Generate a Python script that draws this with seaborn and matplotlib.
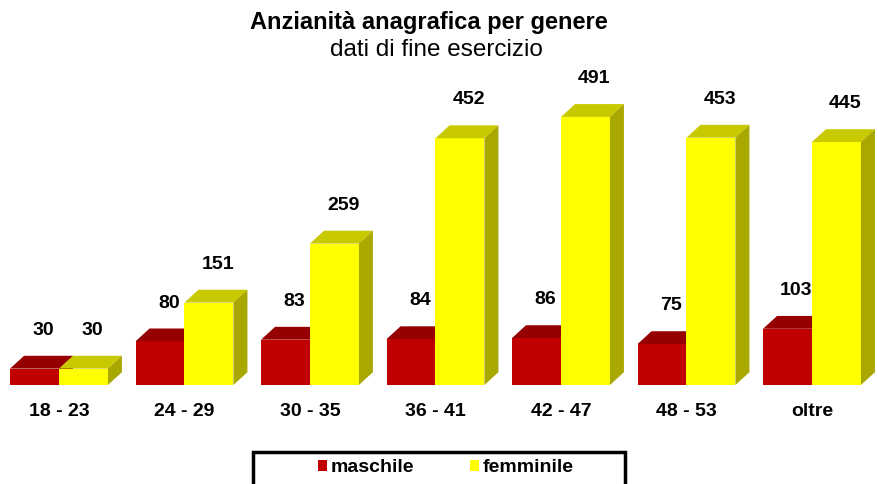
import pandas as pd
import matplotlib
matplotlib.use("Agg")
import matplotlib.pyplot as plt
from matplotlib.patches import Polygon, Patch, Rectangle
import seaborn as sns

# Dati del grafico
fasce = ["18 - 23", "24 - 29", "30 - 35", "36 - 41", "42 - 47", "48 - 53", "oltre"]
maschile = [30, 80, 83, 84, 86, 75, 103]
femminile = [30, 151, 259, 452, 491, 453, 445]
generi = ["maschile", "femminile"]

df = pd.DataFrame({
    "Fascia": fasce * 2,
    "Valore": maschile + femminile,
    "Genere": ["maschile"] * len(fasce) + ["femminile"] * len(fasce),
})

# Colori (fronte, sopra, lato)
colori = {
    "maschile": ("#C00000", "#960000", "#7A0000"),
    "femminile": ("#FFFF00", "#C9C900", "#A8A800"),
}

sns.set_style("white")
plt.rcParams["font.family"] = ["Liberation Sans", "DejaVu Sans"]
plt.rcParams["text.color"] = "black"
plt.rcParams["xtick.color"] = "black"
plt.rcParams["xtick.labelcolor"] = "black"

fig = plt.figure(figsize=(8.78, 4.84), dpi=100)
ax = fig.add_axes([0, 99 / 484, 1, 385 / 484])

sns.barplot(
    data=df, x="Fascia", y="Valore", hue="Genere", hue_order=generi,
    palette=[colori[g][0] for g in generi], width=0.78, dodge=True,
    saturation=1, legend=False, ax=ax, linewidth=0,
)

# profondita' dell'effetto 3D (in unita' dati)
dx = 14 / 125.5
dy = 23.5

for i, bar in enumerate(ax.patches):
    genere = generi[i // len(fasce)]
    fronte, sopra, lato = colori[genere]
    z = 2 if genere == "maschile" else 3
    bar.set_zorder(z)
    x0 = bar.get_x()
    w = bar.get_width()
    h = bar.get_height()
    x1 = x0 + w
    top = Polygon([(x0, h), (x1, h), (x1 + dx, h + dy), (x0 + dx, h + dy)],
                  closed=True, facecolor=sopra, edgecolor="none", zorder=z + 0.5)
    side = Polygon([(x1, 0), (x1 + dx, dy), (x1 + dx, h + dy), (x1, h)],
                   closed=True, facecolor=lato, edgecolor="none", zorder=z + 0.5)
    ax.add_patch(top)
    ax.add_patch(side)
    ax.text(x0 + w / 2 + 0.07, h + 70, str(int(h)), ha="center", va="center",
            fontsize=14, fontweight="bold", color="black", zorder=5)

ax.set_xlim(-0.47, 6.526)
ax.set_ylim(0, 385 / 0.546)
ax.set_yticks([])
ax.set_xticks(range(len(fasce)))
ax.set_xticklabels(fasce, fontsize=14, fontweight="bold", color="black")
ax.tick_params(axis="x", length=0, pad=13)
ax.set_xlabel("")
ax.set_ylabel("")
sns.despine(ax=ax, left=True, bottom=True)

# Titolo
fig.text(429 / 878, 1 - 23 / 484, "Anzianità anagrafica per genere",
         ha="center", va="center", fontsize=17, fontweight="bold", color="black")
fig.text(436 / 878, 1 - 50 / 484, "dati di fine esercizio",
         ha="center", va="center", fontsize=17.5, color="black")

# Legenda
handles = [Patch(facecolor=colori[g][0], edgecolor="none") for g in generi]
leg = fig.legend(handles, generi, ncol=2, frameon=False, loc="center",
                 bbox_to_anchor=(446 / 878, 1 - 468 / 484),
                 prop={"size": 14, "weight": "bold"},
                 handlelength=0.45, handleheight=0.55, handletextpad=0.2,
                 columnspacing=2.9)
for t in leg.get_texts():
    t.set_color("black")
fig.add_artist(Rectangle((253 / 878, -0.05), 372 / 878, 32 / 484 + 0.05,
                         transform=fig.transFigure, fill=False,
                         edgecolor="black", linewidth=2.5))

plt.savefig("out.png", dpi=100)
plt.close()
